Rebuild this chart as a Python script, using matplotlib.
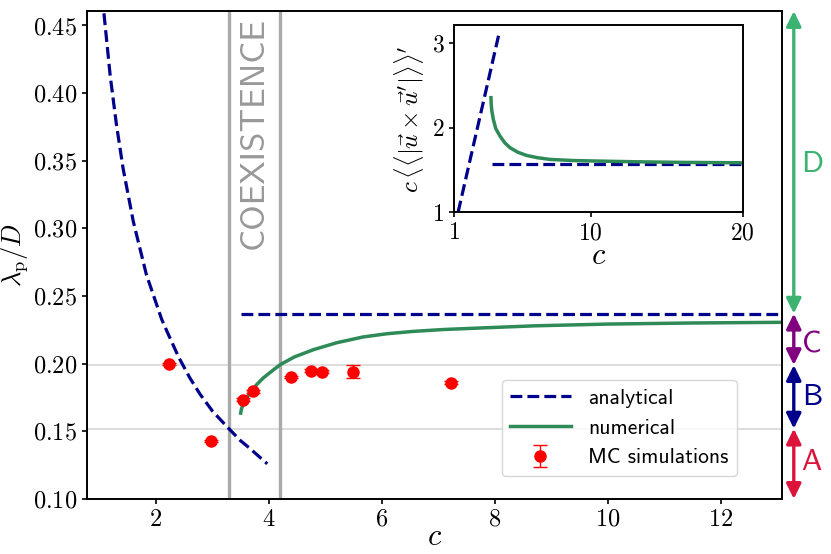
import matplotlib
matplotlib.use('Agg')
import matplotlib.pyplot as plt

# ---- data ----
# analytical curve, small-c branch
ana_c = [1.08, 1.19, 1.30, 1.42, 1.60, 1.83, 2.10, 2.20, 2.40, 2.60, 2.78, 3.00, 3.29, 3.50, 3.66, 3.97]
ana_l = [0.459, 0.413, 0.377, 0.344, 0.305, 0.266, 0.233, 0.2235, 0.205, 0.1895, 0.1775, 0.165, 0.152, 0.143, 0.1375, 0.126]
# analytical curve, large-c plateau
plat_c = [3.5, 13.1]
plat_l = [0.237, 0.237]
# numerical curve
num_c = [3.50, 3.51, 3.54, 3.60, 3.68, 3.78, 3.90, 4.05, 4.20, 4.45, 4.79, 5.20, 5.67,
         6.10, 6.56, 7.10, 7.74, 8.70, 10.0, 11.5, 13.1]
num_l = [0.1635, 0.166, 0.170, 0.1745, 0.179, 0.1844, 0.1895, 0.1945, 0.1993, 0.2050, 0.2104,
         0.2155, 0.2198, 0.2222, 0.2239, 0.2253, 0.2264, 0.2280, 0.2293, 0.2301, 0.2306]
# MC simulations
mc_c = [2.24, 2.97, 3.54, 3.72, 4.39, 4.75, 4.94, 5.49, 7.22]
mc_l = [0.1998, 0.1427, 0.1733, 0.1795, 0.1904, 0.1948, 0.1941, 0.1941, 0.1860]
mc_err = [0.0008, 0.0008, 0.0010, 0.0010, 0.0008, 0.0010, 0.0010, 0.0050, 0.0012]
# coexistence region and region boundaries
coex = [3.29, 4.20]
bounds = [0.10, 0.152, 0.199, 0.237, 0.4607]
region_names = ['A', 'B', 'C', 'D']
region_colors = ['#DC143C', '#00008B', '#800080', '#3CB371']
region_label_y = [0.127, 0.175, 0.214, 0.347]

# inset
in_lin_c = [1.27, 4.0]
in_lin_y = [1.0, 3.14]
in_flat_c = [3.5, 20]
in_flat_y = [1.571, 1.571]
in_num_c = [3.435, 3.45, 3.49, 3.59, 3.75, 4.03, 4.35, 4.69, 5.2, 5.78, 6.5, 7.32,
            8.8, 10.6, 13.0, 16.0, 20.0]
in_num_y = [2.355, 2.28, 2.20, 2.098, 1.99, 1.90, 1.82, 1.763, 1.71, 1.672, 1.645, 1.625,
            1.612, 1.605, 1.597, 1.59, 1.585]

plt.rcParams['font.family'] = 'cmr10'
plt.rcParams['mathtext.fontset'] = 'cm'
plt.rcParams['axes.formatter.use_mathtext'] = True
plt.rcParams['axes.unicode_minus'] = False

navy = '#00008B'
green = '#2E8B57'

fig = plt.figure(figsize=(8.31, 5.54), dpi=100)
ax = fig.add_axes([0.1047, 0.0993, 0.8363, 0.8808])

for y in [0.199, 0.152]:
    ax.axhline(y, color='#dddddd', lw=1.5, zorder=0)
for x in coex:
    ax.axvline(x, color='#aaaaaa', lw=2.4, zorder=1)
ax.text(sum(coex) / 2, 0.456, 'COEXISTENCE', rotation=90, ha='center', va='top',
        color='#999999', fontsize=25, family='cmss10')

ax.plot(ana_c, ana_l, '--', color=navy, lw=2.3, label='analytical')
ax.plot(plat_c, plat_l, '--', color=navy, lw=2.3)
ax.plot(num_c, num_l, '-', color=green, lw=2.5, label='numerical')
ax.errorbar(mc_c, mc_l, yerr=mc_err, fmt='o', color='red', ms=8, capsize=5,
            elinewidth=1, label='MC simulations', zorder=5)

ax.set_xlim(0.78, 13.08)
ax.set_ylim(0.10, 0.4607)
ax.set_xticks([2, 4, 6, 8, 10, 12])
ax.set_yticks([0.10, 0.15, 0.20, 0.25, 0.30, 0.35, 0.40, 0.45])
ax.tick_params(labelsize=17.5, width=1.2, length=3.5)
for s in ax.spines.values():
    s.set_linewidth(1.4)
ax.set_xlabel(r'$c$', fontsize=22, labelpad=-5)
ax.set_ylabel(r'$\lambda_{\rm p}/D$', fontsize=19, labelpad=2)

leg = ax.legend(loc='lower right', bbox_to_anchor=(0.935, 0.047), borderaxespad=0,
                prop={'family': 'cmss10', 'size': 15.5}, handlelength=2.8)

# region arrows at the right
for i, name in enumerate(region_names):
    ax.annotate('', xy=(1.017, bounds[i + 1]), xytext=(1.017, bounds[i]),
                xycoords=('axes fraction', 'data'), textcoords=('axes fraction', 'data'),
                arrowprops=dict(arrowstyle='<|-|>,head_length=0.45,head_width=0.22',
                                color=region_colors[i], lw=2.4, shrinkA=0, shrinkB=0,
                                mutation_scale=20),
                annotation_clip=False)
    ax.text(1.043, region_label_y[i], name, transform=ax.get_yaxis_transform(),
            ha='center', va='center', color=region_colors[i], fontsize=22,
            family='cmss10', clip_on=False)

# inset
axi = fig.add_axes([0.5463, 0.6168, 0.3474, 0.3375])
axi.plot(in_lin_c, in_lin_y, '--', color=navy, lw=2.3)
axi.plot(in_flat_c, in_flat_y, '--', color=navy, lw=2.3)
axi.plot(in_num_c, in_num_y, '-', color=green, lw=2.5)
axi.set_xlim(1, 20)
axi.set_ylim(1, 3.21)
axi.set_xticks([1, 10, 20])
axi.set_yticks([1, 2, 3])
axi.tick_params(labelsize=17, width=1.2, length=3.5)
for s in axi.spines.values():
    s.set_linewidth(1.4)
axi.set_xlabel(r'$c$', fontsize=22, labelpad=-1)
axi.set_ylabel(r"$c\,\langle\langle|\vec{u}\times\vec{u}'|\rangle\rangle'$", fontsize=18)

fig.savefig('out.png', dpi=100)
